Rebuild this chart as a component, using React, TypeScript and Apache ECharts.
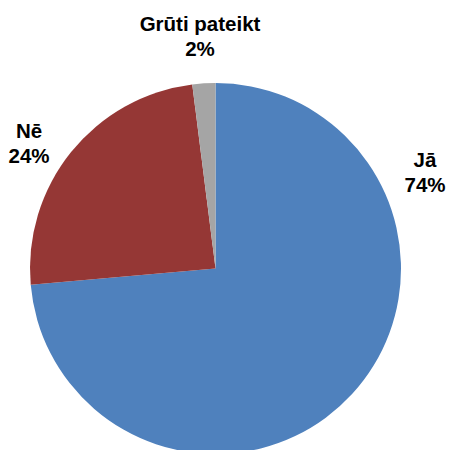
import React, { useEffect, useRef } from "react";
import * as echarts from "echarts";

const categories = ["Jā", "Nē", "Grūti pateikt"];
const values = [73.6, 24.4, 2.0];
const colors = ["#4F81BD", "#953735", "#A5A5A5"];
const labelSpots = [
  [425, 172],
  [29, 143],
  [200, 36],
];

export default function App() {
  const ref = useRef<HTMLDivElement>(null);
  useEffect(() => {
    document.body.style.margin = "0";
    const chart = echarts.init(ref.current!, null, { renderer: "svg" });
    chart.setOption({
      animation: false,
      backgroundColor: "#ffffff",
      series: [
        {
          type: "pie",
          center: [215.5, 268.5],
          radius: 185.5,
          startAngle: 90,
          clockwise: true,
          data: categories.map((c, i) => ({
            name: c,
            value: values[i],
            itemStyle: { color: colors[i] },
          })),
          label: {
            show: true,
            position: "outside",
            formatter: (p: any) => `${p.name}\n${Math.round(p.value)}%`,
            fontFamily: "Liberation Sans, Arial, sans-serif",
            fontWeight: "bold",
            fontSize: 20.5,
            lineHeight: 25,
            color: "#000000",
            align: "center",
            overflow: "none",
            edgeDistance: 0,
          },
          labelLine: { show: false },
          labelLayout: (p: any) => ({
            x: labelSpots[p.dataIndex][0],
            y: labelSpots[p.dataIndex][1],
            align: "center",
            verticalAlign: "middle",
          }),
          emphasis: { disabled: true },
        },
      ],
    });
    return () => chart.dispose();
  }, []);
  return (
    <div
      ref={ref}
      style={{ position: "absolute", left: 0, top: 0, width: 453, height: 450 }}
    />
  );
}
